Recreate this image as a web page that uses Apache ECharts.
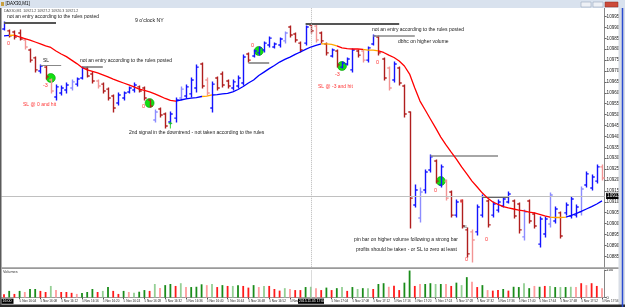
<!DOCTYPE html>
<html><head><meta charset="utf-8">
<script src="https://cdn.jsdelivr.net/npm/echarts@6/dist/echarts.min.js"></script>
<style>html,body{margin:0;padding:0;background:#fff;}#c{width:625px;height:307px;}</style>
</head><body><div id="c"></div>
<script>
// ---- data (DAX30, M1, 5 Nov 2015) ----
const times = [];
for (let i = 0; i < 116; i++) { const t = 16 * 60 + 1 + i; times.push(Math.floor(t / 60) + ':' + String(t % 60).padStart(2, '0')); }

const opens = [
10989.6,10988.7,10988.2,10987.7,10984.5,10979.9,10976.3,10970.3,10972.1,10966.2,
10958.4,10960.2,10961.6,10962.5,10964.3,10967.1,10971.7,10968.9,10965.7,10964.3,
10962.0,10958.8,10955.6,10957.9,10960.7,10961.6,10963.0,10962.5,10957.0,10947.8,
10952.9,10950.6,10946.9,10948.7,10957.9,10958.8,10959.8,10962.5,10973.5,10966.2,
10953.3,10967.1,10968.9,10965.7,10962.5,10963.4,10964.8,10978.1,10977.2,10978.6,
10979.9,10982.2,10981.3,10982.2,10984.1,10990.5,10987.3,10983.1,10983.1,10991.4,
10990.9,10987.7,10982.7,10977.2,10979.5,10972.1,10973.5,10970.8,10979.5,10979.5,
10975.3,10982.7,10985.9,10975.8,10971.7,10966.2,10971.7,10963.4,10951.5,10908.8,
10902.9,10915.7,10924.9,10929.0,10918.0,10919.8,10914.8,10904.2,10910.7,10897.4,
10896.5,10896.5,10904.2,10910.7,10904.2,10906.5,10908.4,10910.2,10910.7,10909.3,
10894.2,10910.7,10904.7,10890.9,10895.5,10900.1,10901.5,10905.2,10905.2,10903.8,
10904.2,10905.6,10918.0,10916.6,10919.8,10926.3];
const highs = [
10992.8,10989.1,10988.7,10989.1,10985.0,10980.4,10976.7,10973.1,10972.6,10966.6,
10963.9,10963.4,10964.8,10966.2,10967.1,10972.1,10972.1,10969.8,10966.2,10964.8,
10962.5,10959.3,10960.2,10960.7,10963.0,10964.8,10963.4,10963.0,10957.0,10952.4,
10953.3,10951.0,10951.5,10957.9,10963.0,10963.9,10967.1,10973.1,10974.0,10967.1,
10965.3,10967.6,10969.8,10966.2,10966.2,10968.0,10977.6,10978.6,10979.9,10981.3,
10983.6,10985.9,10983.1,10985.4,10988.2,10990.9,10987.7,10983.6,10990.9,10991.9,
10991.4,10988.2,10983.1,10980.4,10979.9,10974.4,10976.3,10980.4,10979.9,10979.9,
10981.3,10986.8,10986.4,10976.3,10972.1,10974.4,10972.1,10963.9,10951.5,10918.0,
10916.6,10924.9,10931.8,10929.5,10927.2,10920.3,10915.3,10911.1,10911.1,10898.3,
10897.4,10908.8,10913.4,10911.1,10910.2,10911.1,10912.0,10914.8,10911.1,10909.8,
10906.5,10911.1,10905.2,10903.3,10903.3,10914.3,10907.9,10905.6,10909.8,10912.5,
10908.8,10917.1,10924.0,10922.6,10927.2,10927.2];
const lows = [
10989.1,10985.9,10985.0,10984.5,10980.4,10974.4,10969.8,10969.4,10966.6,10960.2,
10957.0,10959.3,10960.2,10961.6,10963.4,10966.6,10967.6,10964.8,10962.5,10960.2,
10957.0,10951.5,10954.7,10957.0,10960.2,10960.7,10960.7,10957.0,10953.8,10946.9,
10949.2,10944.2,10946.0,10946.9,10957.0,10957.9,10958.4,10960.7,10962.5,10959.3,
10951.5,10961.6,10963.0,10962.5,10961.6,10962.5,10963.9,10974.4,10976.7,10977.6,
10979.0,10981.3,10980.9,10981.3,10983.1,10985.9,10983.6,10979.0,10982.2,10987.7,
10983.6,10983.1,10977.6,10976.7,10972.1,10971.7,10973.1,10969.8,10976.7,10974.4,
10974.4,10982.2,10977.6,10966.2,10961.6,10965.3,10963.9,10949.2,10898.3,10907.9,
10901.0,10914.3,10924.0,10918.9,10917.1,10911.1,10903.3,10903.3,10898.3,10885.0,
10882.7,10895.1,10903.3,10898.7,10903.3,10905.6,10907.9,10909.8,10902.9,10896.0,
10892.8,10900.6,10898.3,10889.6,10894.2,10898.7,10900.6,10893.7,10904.2,10902.9,
10903.3,10904.2,10917.1,10915.7,10918.9,10920.3];
const closes = [
10992.3,10986.4,10985.9,10985.0,10981.3,10975.3,10970.8,10972.6,10967.6,10961.1,
10963.0,10962.5,10963.9,10965.3,10966.6,10971.7,10968.0,10965.7,10963.4,10961.1,
10957.9,10953.3,10959.3,10960.2,10962.5,10963.9,10961.1,10957.9,10954.2,10951.5,
10950.1,10945.1,10950.6,10957.0,10962.0,10963.0,10966.2,10972.1,10963.4,10960.2,
10964.3,10962.5,10963.9,10963.4,10965.3,10967.1,10976.7,10975.3,10979.5,10980.9,
10983.1,10985.4,10982.7,10985.0,10987.7,10986.8,10984.5,10979.9,10990.5,10988.7,
10984.5,10984.1,10978.6,10979.9,10973.1,10974.0,10975.8,10979.9,10977.6,10975.3,
10980.9,10986.4,10978.6,10967.1,10962.5,10973.5,10964.8,10950.6,10912.0,10915.7,
10914.8,10924.0,10930.9,10919.8,10926.3,10912.0,10904.2,10910.2,10899.2,10886.4,
10892.8,10907.9,10912.5,10899.7,10909.3,10910.2,10911.6,10913.9,10903.8,10897.4,
10905.6,10901.5,10899.2,10902.4,10902.4,10913.4,10907.0,10894.6,10908.8,10911.6,
10907.9,10916.2,10923.1,10921.7,10926.3,10921.2];
const barColors = [
'B','R','R','R','P','R','R','B','R','P',
'B','B','B','LB','B','B','R','R','P','R',
'R','R','B','B','B','B','R','R','R','LB',
'R','R','B','B','LB','B','B','B','R','P',
'B','R','R','R','B','B','B','R','B','B',
'B','B','B','B','LB','R','R','R','B','R',
'P','R','R','B','R','B','B','B','R','P',
'B','B','R','R','P','B','R','R','R','B',
'LB','B','B','R','B','P','R','B','R','R',
'P','B','B','R','B','B','B','B','R','R',
'LB','R','R','B','B','LB','B','R','B','B',
'B','LB','B','B','B','P'];
const maValues = [
10986.4,10986.6,10986.8,10985.9,10985.2,10984.5,10983.6,10982.7,10981.8,10981.1,
10979.5,10978.1,10976.9,10975.3,10973.7,10971.9,10970.8,10970.1,10969.4,10968.5,
10967.6,10966.6,10965.7,10964.8,10963.9,10963.0,10962.0,10961.4,10960.7,10959.8,
10958.8,10957.7,10956.8,10956.5,10957.0,10957.5,10957.9,10958.1,10958.6,10958.8,
10959.3,10959.5,10959.8,10960.0,10960.7,10961.8,10963.2,10964.8,10966.2,10968.2,
10969.8,10971.4,10972.8,10974.4,10975.6,10976.7,10977.9,10979.0,10980.2,10981.3,
10982.0,10982.7,10982.7,10982.5,10981.8,10980.9,10980.6,10980.4,10980.4,10980.2,
10979.9,10979.9,10979.5,10978.8,10977.6,10976.5,10974.9,10972.6,10968.9,10962.5,
10956.5,10952.4,10948.3,10944.2,10940.0,10936.4,10933.1,10929.9,10926.3,10923.1,
10919.8,10917.1,10914.3,10912.0,10910.2,10909.1,10908.1,10907.5,10907.0,10906.5,
10906.1,10905.6,10905.2,10904.5,10903.8,10903.3,10903.1,10903.1,10903.3,10904.0,
10904.9,10905.9,10907.0,10908.1,10909.3,10910.7];
// MA colour segments: [fromIndex, toIndex, colourKey]
const maSegments = [[0,1,'B'],[1,2,'O'],[2,33,'R'],[33,38,'B'],[38,40,'O'],[40,61,'B'],[61,64,'O'],[64,69,'R'],[69,72,'O'],[72,105,'R'],[105,108,'O'],[108,115,'B']];
const volumes = [
12,24,13,24,20,31,31,24,20,42,
27,20,20,17,13,16,20,31,20,24,
38,24,13,24,20,17,21,27,24,49,
35,45,49,42,52,38,38,39,48,45,
49,38,45,42,42,45,42,36,45,38,
42,42,31,25,34,31,27,27,38,39,
34,27,36,27,34,38,24,38,31,34,
34,31,49,52,39,43,27,54,98,42,
49,49,52,49,49,49,42,54,45,74,
57,38,45,27,25,27,31,25,39,38,
52,34,42,39,42,42,38,38,38,39,
38,52,45,52,42,34];
const volColors = [
'R','G','R','G','P','G','G','R','R','LG',
'P','R','R','R','P','G','G','G','R','LG',
'G','R','R','G','P','LG','G','G','R','LG',
'P','G','G','R','LG','P','G','G','G','P',
'LG','R','G','R','LG','G','R','R','G','P',
'LG','R','R','R','LG','P','R','R','G','LG',
'P','R','G','R','G','LG','R','G','LG','G',
'LG','R','G','G','P','R','R','G','G','R',
'P','G','G','LG','G','P','R','G','LG','G',
'P','R','G','P','R','R','G','R','G','G',
'LG','G','P','G','R','LG','G','LG','G','LG',
'P','R','P','R','R','P'];
const signalIdx = [9, 28, 49, 65, 84];
const signalPrice = [10967.1, 10955.6, 10979.5, 10972.6, 10919.8];
const arrowIdx = [32];
const arrowPrice = [10945.5];
const levelStart = [0, 7, 15, 47, 58, 71, 82, 92];
const levelEnd   = [10, 11, 19, 51, 76, 79, 95, 97];
const levelPrice = [10992.3, 10973.1, 10972.1, 10974.0, 10991.9, 10986.4, 10931.5, 10912.7];
const bidPrice = 10913.0;
const separatorIdx = 59;

// ---- styles ----
const barPalette = {B:'#1414ff', LB:'#8c8cff', R:'#b01e1e', P:'#f29494'};
const volPalette = {G:'#1a8c1a', LG:'#94cf94', R:'#ff1a1a', P:'#ff9c9c'};
const maPalette = {R:'#ff0000', B:'#0000ff', O:'#ffa500'};
const levelStyle = [[2.2,'#555'],[1,'#888'],[1.5,'#777'],[1.5,'#777'],[2.2,'#555'],[1.5,'#888'],[1.5,'#888'],[2,'#666']];
const FONT = '"Liberation Sans", Arial, sans-serif';

const chart = echarts.init(document.getElementById('c'), null, {renderer:'canvas'});
const showTime = (idx) => idx % 4 === 3 && idx !== separatorIdx;

const levelLines = levelPrice.map((p, k) => [
  {coord:[times[levelStart[k]], p], lineStyle:{width:levelStyle[k][0], color:levelStyle[k][1], type:'solid'}},
  {coord:[times[levelEnd[k]], p]}
]);

function txt(x, y, s, color, size) {
  return {type:'text', x:x, y:y, z:60, silent:true,
    style:{text:s, fill:color, font:size + 'px ' + FONT, verticalAlign:'middle', textVerticalAlign:'middle'}};
}
const BK = '#1a1a1a', RD = '#ff3535';
const graphics = [
  // window chrome
  {type:'rect', shape:{x:0, y:0, width:625, height:8}, style:{fill:'#d9e2ee'}, z:50},
  {type:'rect', shape:{x:1, y:2, width:3, height:4}, style:{fill:'#c8a040'}, z:51},
  txt(5.5, 4.2, '[DAX30,M1]', '#000', 4.5),
  {type:'rect', shape:{x:581, y:2, width:10, height:5}, style:{fill:'#eef1f6', stroke:'#8a98b0', lineWidth:0.5}, z:51},
  {type:'rect', shape:{x:593, y:2, width:10, height:5}, style:{fill:'#eef1f6', stroke:'#8a98b0', lineWidth:0.5}, z:51},
  {type:'rect', shape:{x:605, y:2, width:13, height:5}, style:{fill:'#cc4a3a', stroke:'#8c2a1c', lineWidth:0.5}, z:51},
  txt(4, 11, 'DAX30,M1  10921.2 10927.2 10920.3 10921.2', '#444', 3.6),
  {type:'rect', shape:{x:0, y:8, width:1.5, height:299}, style:{fill:'#5a5a5a'}, z:50},
  {type:'rect', shape:{x:618.5, y:8, width:6.5, height:299}, style:{fill:'#d8dde6'}, z:50},
  {type:'line', shape:{x1:622.5, y1:8, x2:622.5, y2:307}, style:{stroke:'#2a4bd0', lineWidth:1.5}, z:51},
  {type:'rect', shape:{x:1.5, y:267.3, width:617, height:1.8}, style:{fill:'#9a9a9a'}, z:50},
  txt(3, 272, 'Volumes', '#333', 3.8),
  {type:'rect', shape:{x:0, y:304.6, width:625, height:2.4}, style:{fill:'#2a2a2a'}, z:50},
  {type:'rect', shape:{x:1.5, y:298.6, width:12, height:5.2}, style:{fill:'#000'}, z:51},
  txt(2.5, 301.2, '16:00', '#fff', 3.6),
  {type:'rect', shape:{x:298, y:298.6, width:26, height:5.2}, style:{fill:'#000'}, z:51},
  txt(299, 301.2, '2015.11.05 17:00', '#fff', 3.4),
  // annotations
  txt(7, 17, 'not an entry according to the rules posted', BK, 5),
  txt(135, 20.5, "9 o'clock NY", BK, 5.2),
  txt(43, 61, 'SL', BK, 5),
  txt(80, 61, 'not an entry according to the rules posted', BK, 5),
  txt(23, 105, 'SL @ 0 and hit', RD, 5),
  txt(7, 43, '0', RD, 5.5),
  txt(43, 85, '-3', RD, 5.5),
  txt(142, 106, '0', RD, 5.5),
  txt(129, 133, '2nd signal in the downtrend - not taken according to the rules', BK, 5),
  txt(251, 45, '0', RD, 5.5),
  txt(335, 74, '-3', RD, 5.5),
  txt(318, 87, 'SL @ -3 and hit', RD, 5),
  txt(376, 62, '0', RD, 5.5),
  txt(372, 30, 'not an entry according to the rules posted', BK, 5),
  txt(398, 42, 'dbhc on higher volume', BK, 5),
  txt(434, 190, '0', RD, 5.5),
  txt(460, 201, '0', RD, 5.5),
  txt(354, 240, 'pin bar on higher volume following a strong bar', BK, 5),
  txt(356, 249.5, 'profits should be taken - or SL to zero at least', BK, 5),
  txt(465, 259, '0', RD, 5.5),
  txt(485, 239, '0', RD, 5.5),
  txt(463, 227, 'SL', '#333', 3.8)
];

const option = {
  animation:false,
  backgroundColor:'#ffffff',
  textStyle:{fontFamily:FONT},
  grid:[
    {left:1.4, right:20.4, top:5.6, height:261.6, outerBoundsMode:'none', containLabel:false},
    {left:1.4, right:20.4, top:270, height:27.5, outerBoundsMode:'none', containLabel:false}
  ],
  xAxis:[
    {type:'category', gridIndex:0, data:times, boundaryGap:true, show:false},
    {type:'category', gridIndex:1, data:times, boundaryGap:true,
      axisLine:{show:true, lineStyle:{color:'#999', width:1}},
      axisTick:{show:true, alignWithLabel:true, interval:showTime, length:1.5, lineStyle:{color:'#555'}},
      axisLabel:{interval:showTime, formatter:(v) => '5 Nov ' + v, fontSize:3.1, color:'#222', align:'left', margin:1.8, hideOverlap:false}}
  ],
  yAxis:[
    {type:'value', gridIndex:0, position:'right', min:10880.3, max:11000.3, interval:5, scale:false,
      splitLine:{show:false}, axisLine:{show:true, lineStyle:{color:'#888', width:1}},
      axisTick:{show:true, length:2, lineStyle:{color:'#666'}},
      axisLabel:{fontSize:4.6, color:'#222', margin:2, showMinLabel:false, showMaxLabel:false, hideOverlap:false,
        formatter:(v) => v.toFixed(1)}},
    {type:'value', gridIndex:1, position:'right', min:0, max:100, interval:100,
      splitLine:{show:false}, axisLine:{show:true, lineStyle:{color:'#888', width:1}},
      axisTick:{show:true, length:2, lineStyle:{color:'#666'}},
      axisLabel:{fontSize:4, color:'#222', margin:2, formatter:(v) => String(v)}}
  ],
  visualMap:{show:false, type:'piecewise', seriesIndex:3, dimension:0,
    pieces:maSegments.map((s, k) => (k === maSegments.length - 1 ? {gte:s[0], lte:s[1] + 1, color:maPalette[s[2]]} : {gte:s[0], lt:s[1], color:maPalette[s[2]]}))},
  graphic:graphics,
  series:[
    {name:'signals', type:'scatter', xAxisIndex:0, yAxisIndex:0, z:2,
      data:signalIdx.map((ix, k) => [ix, signalPrice[k]]), symbol:'circle', symbolSize:9,
      itemStyle:{color:'#12e012', borderColor:'#0a9a0a', borderWidth:0.6, opacity:1},
      markLine:{silent:true, symbol:['none','none'], label:{show:false}, animation:false,
        data:levelLines.concat([
          {yAxis:bidPrice, lineStyle:{color:'#c0c0c0', width:1, type:'solid'},
            label:{show:true, position:'end', formatter:bidPrice.toFixed(1), backgroundColor:'#000', color:'#fff', fontSize:4.6, padding:[0.8,1,0.4,1], distance:1.5}},
          {xAxis:times[separatorIdx], lineStyle:{color:'#b8b8b8', width:1, type:'dotted'}}
        ])}},
    {name:'arrow', type:'scatter', xAxisIndex:0, yAxisIndex:0, z:4,
      data:arrowIdx.map((ix, k) => [ix, arrowPrice[k]]),
      symbol:'path://M5 0 L10 5 L6.2 5 L6.2 14 L3.8 14 L3.8 5 L0 5 Z', symbolSize:[4.5, 7],
      itemStyle:{color:'#10d010'}},
    {name:'price', type:'custom', xAxisIndex:0, yAxisIndex:0, z:3, clip:true,
      data:opens.map((o, i) => [i, o, highs[i], lows[i], closes[i]]),
      encode:{x:0, y:[1,2,3,4]},
      renderItem:function(params, api){
        const i = api.value(0);
        const pO = api.coord([i, api.value(1)]);
        const pH = api.coord([i, api.value(2)]);
        const pL = api.coord([i, api.value(3)]);
        const pC = api.coord([i, api.value(4)]);
        const x = Math.round(pO[0]) + 0.5;
        const st = {stroke:barPalette[barColors[params.dataIndex]], lineWidth:1.4};
        return {type:'group', children:[
          {type:'line', shape:{x1:x, y1:pH[1] - 0.5, x2:x, y2:pL[1] + 0.5}, style:st},
          {type:'line', shape:{x1:x - 2.2, y1:pO[1], x2:x, y2:pO[1]}, style:st},
          {type:'line', shape:{x1:x, y1:pC[1], x2:x + 2.2, y2:pC[1]}, style:st}
        ]};
      }},
    {name:'ma', type:'line', xAxisIndex:0, yAxisIndex:0, z:5,
      data:maValues.map((v, i) => [i, v]), showSymbol:false, symbol:'none', smooth:false,
      lineStyle:{width:1.3}},
    {name:'volume', type:'bar', xAxisIndex:1, yAxisIndex:1, barWidth:1.8,
      data:volumes.map((v, i) => ({value:v, itemStyle:{color:volPalette[volColors[i]]}})),
      markLine:{silent:true, symbol:['none','none'], label:{show:false}, animation:false,
        data:[{xAxis:times[separatorIdx], lineStyle:{color:'#b8b8b8', width:1, type:'dotted'}}]}}
  ]
};
chart.setOption(option);
</script>
</body></html>
